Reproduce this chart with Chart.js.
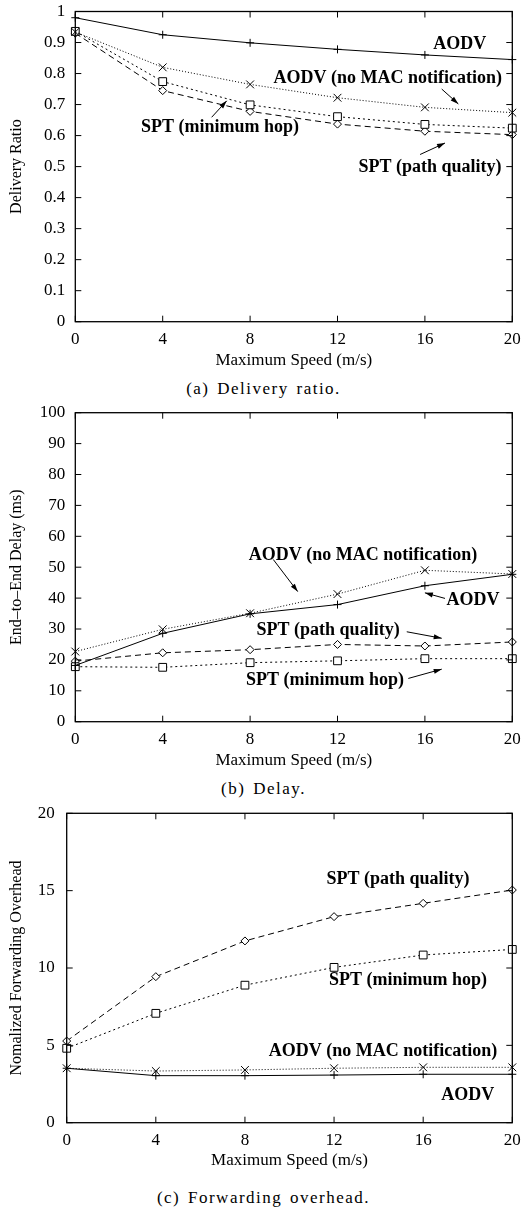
<!DOCTYPE html>
<html>
<head>
<meta charset="utf-8">
<script src="https://cdn.jsdelivr.net/npm/chart.js@4.4.0/dist/chart.umd.min.js"></script>
<style>
  body { margin: 0; background: #fff; width: 527px; height: 1211px; position: relative; overflow: hidden; font-family: "Liberation Serif", "Times New Roman", serif; }
  .panel { position: absolute; left: 0; }
  .caption { position: absolute; left: 0; width: 527px; text-align: center; font-size: 17px; letter-spacing: 1.5px; word-spacing: 2px; color: #000; }
</style>
</head>
<body>
<div class="panel" style="top:0px"><canvas id="ratioChart" width="527" height="371"></canvas></div>
<div class="caption" style="top:379px">(a) Delivery ratio.</div>
<div class="panel" style="top:400px"><canvas id="delayChart" width="527" height="371"></canvas></div>
<div class="caption" style="top:779px">(b) Delay.</div>
<div class="panel" style="top:800px"><canvas id="overheadChart" width="527" height="371"></canvas></div>
<div class="caption" style="top:1188px">(c) Forwarding overhead.</div>

<script>
// x categories: maximum speed (m/s)
const speeds = [0, 4, 8, 12, 16, 20];

// (a) delivery ratio
const ratioAodv      = [0.980, 0.925, 0.899, 0.878, 0.860, 0.845];
const ratioAodvNoMac = [0.934, 0.820, 0.765, 0.722, 0.691, 0.674];
const ratioSptHop    = [0.936, 0.774, 0.699, 0.661, 0.636, 0.624];
const ratioSptPath   = [0.930, 0.745, 0.678, 0.637, 0.614, 0.603];

// (b) end-to-end delay (ms)
const delayAodv      = [18.2, 28.6, 34.9, 37.9, 44.0, 47.7];
const delayAodvNoMac = [22.7, 29.9, 35.1, 41.3, 49.0, 47.8];
const delaySptHop    = [17.8, 17.6, 19.1, 19.7, 20.4, 20.4];
const delaySptPath   = [19.6, 22.3, 23.3, 25.0, 24.5, 25.8];

// (c) normalized forwarding overhead
const ovhAodv      = [3.52, 3.04, 3.04, 3.08, 3.13, 3.13];
const ovhAodvNoMac = [3.52, 3.34, 3.41, 3.52, 3.58, 3.58];
const ovhSptHop    = [4.81, 7.07, 8.89, 10.04, 10.84, 11.20];
const ovhSptPath   = [5.28, 9.44, 11.75, 13.32, 14.18, 15.04];

// tick labels
const ratioTicks = [0, 0.1, 0.2, 0.3, 0.4, 0.5, 0.6, 0.7, 0.8, 0.9, 1];
const delayTicks = [0, 10, 20, 30, 40, 50, 60, 70, 80, 90, 100];
const ovhTicks   = [0, 5, 10, 15, 20];

const FONT = '"Liberation Serif", "Times New Roman", serif';

// line styles (gnuplot-like)
const styles = {
  aodv:      { borderDash: [],     pointStyle: 'cross',    pointRadius: 4,   pointBackgroundColor: '#000' },
  aodvNoMac: { borderDash: [1, 2], pointStyle: 'crossRot', pointRadius: 5.5, pointBackgroundColor: '#000' },
  sptHop:    { borderDash: [2, 3], pointStyle: 'rect',     pointRadius: 5.5, pointBackgroundColor: '#fff' },
  sptPath:   { borderDash: [6, 4], pointStyle: 'rectRot',  pointRadius: 4,   pointBackgroundColor: '#fff' }
};

function series(values, style) {
  return Object.assign({
    data: values.map((v, i) => ({ x: speeds[i], y: v })),
    borderColor: '#000',
    borderWidth: 1,
    pointBorderColor: '#000',
    pointBorderWidth: 1,
    tension: 0,
    clip: false
  }, style);
}

// frame with inward ticks on all four sides, plus annotations
const framePlugin = {
  id: 'frame',
  afterDraw(chart, args, opts) {
    const ctx = chart.ctx;
    const area = chart.chartArea;
    const xs = chart.scales.x, ys = chart.scales.y;
    const tl = 6;
    ctx.save();
    ctx.strokeStyle = '#000';
    ctx.lineWidth = 1.3;
    ctx.setLineDash([]);
    ctx.strokeRect(area.left, area.top, area.right - area.left, area.bottom - area.top);
    ctx.lineWidth = 1;
    ctx.beginPath();
    xs.ticks.forEach(t => {
      const px = xs.getPixelForValue(t.value);
      ctx.moveTo(px, area.bottom); ctx.lineTo(px, area.bottom - tl);
      ctx.moveTo(px, area.top); ctx.lineTo(px, area.top + tl);
    });
    ys.ticks.forEach(t => {
      const py = ys.getPixelForValue(t.value);
      ctx.moveTo(area.left, py); ctx.lineTo(area.left + tl, py);
      ctx.moveTo(area.right, py); ctx.lineTo(area.right - tl, py);
    });
    ctx.stroke();

    // notes
    ctx.fillStyle = '#000';
    ctx.font = 'bold 18px ' + FONT;
    ctx.textAlign = 'center';
    ctx.textBaseline = 'middle';
    (opts.notes || []).forEach(n => {
      ctx.fillText(n.text, xs.getPixelForValue(n.x), ys.getPixelForValue(n.y));
    });
    // arrows
    (opts.arrows || []).forEach(a => {
      const x1 = xs.getPixelForValue(a.from[0]), y1 = ys.getPixelForValue(a.from[1]);
      const x2 = xs.getPixelForValue(a.to[0]), y2 = ys.getPixelForValue(a.to[1]);
      const ang = Math.atan2(y2 - y1, x2 - x1);
      ctx.beginPath();
      ctx.moveTo(x1, y1); ctx.lineTo(x2, y2);
      ctx.stroke();
      ctx.beginPath();
      ctx.moveTo(x2, y2);
      ctx.lineTo(x2 - 8 * Math.cos(ang) + 2.5 * Math.sin(ang), y2 - 8 * Math.sin(ang) - 2.5 * Math.cos(ang));
      ctx.lineTo(x2 - 8 * Math.cos(ang) - 2.5 * Math.sin(ang), y2 - 8 * Math.sin(ang) + 2.5 * Math.cos(ang));
      ctx.closePath();
      ctx.fill();
    });
    ctx.restore();
  }
};

function makeChart(id, cfg) {
  const canvas = document.getElementById(id);
  const H = canvas.height;
  return new Chart(canvas, {
    type: 'line',
    data: { datasets: cfg.datasets },
    plugins: [framePlugin],
    options: {
      responsive: false,
      animation: false,
      devicePixelRatio: 1,
      layout: { padding: { top: cfg.top, right: 527 - cfg.right, left: 0, bottom: 0 } },
      plugins: {
        legend: { display: false },
        tooltip: { enabled: false },
        frame: { notes: cfg.notes, arrows: cfg.arrows }
      },
      scales: {
        x: {
          type: 'linear',
          min: 0, max: 20,
          grid: { display: false, drawTicks: false },
          border: { display: false },
          afterBuildTicks: s => { s.ticks = speeds.map(v => ({ value: v })); },
          afterFit: s => { s.height = H - cfg.bottom; s.paddingLeft = 0; s.paddingRight = 0; },
          ticks: { color: '#000', padding: 8, font: { family: FONT, size: 17 }, callback: v => String(v), maxRotation: 0 },
          title: { display: true, text: 'Maximum Speed (m/s)', color: '#000', font: { family: FONT, size: 17 }, padding: { top: 0, bottom: 0 } }
        },
        y: {
          type: 'linear',
          min: cfg.yTicks[0], max: cfg.yTicks[cfg.yTicks.length - 1],
          grid: { display: false, drawTicks: false },
          border: { display: false },
          afterBuildTicks: s => { s.ticks = cfg.yTicks.map(v => ({ value: v })); },
          afterFit: s => { s.width = cfg.left; s.paddingTop = 0; s.paddingBottom = 0; },
          ticks: { color: '#000', padding: cfg.tickPad, font: { family: FONT, size: 17 }, callback: v => String(v) },
          title: { display: true, text: cfg.yTitle, color: '#000', font: { family: FONT, size: 16 }, padding: { top: 7, bottom: 0 } }
        }
      }
    }
  });
}

makeChart('ratioChart', {
  top: 11.5, bottom: 321.7, left: 75.3, right: 512.3, tickPad: 10,
  yTicks: ratioTicks, yTitle: 'Delivery Ratio',
  datasets: [
    series(ratioAodv, styles.aodv),
    series(ratioAodvNoMac, styles.aodvNoMac),
    series(ratioSptHop, styles.sptHop),
    series(ratioSptPath, styles.sptPath)
  ],
  notes: [
    { text: 'AODV', x: 17.6, y: 0.895 },
    { text: 'AODV (no MAC notification)', x: 14.3, y: 0.784 },
    { text: 'SPT (minimum hop)', x: 6.62, y: 0.627 },
    { text: 'SPT (path quality)', x: 16.23, y: 0.498 }
  ],
  arrows: [
    { from: [16.77, 0.750], to: [17.53, 0.702] },
    { from: [6.24, 0.659], to: [6.93, 0.712] },
    { from: [15.78, 0.539], to: [16.92, 0.576] }
  ]
});

makeChart('delayChart', {
  top: 12.7, bottom: 321.7, left: 75.3, right: 512.3, tickPad: 10,
  yTicks: delayTicks, yTitle: 'End\u2013to\u2013End Delay (ms)',
  datasets: [
    series(delayAodv, styles.aodv),
    series(delayAodvNoMac, styles.aodvNoMac),
    series(delaySptHop, styles.sptHop),
    series(delaySptPath, styles.sptPath)
  ],
  notes: [
    { text: 'AODV (no MAC notification)', x: 13.17, y: 53.9 },
    { text: 'AODV', x: 18.2, y: 39.4 },
    { text: 'SPT (path quality)', x: 11.57, y: 29.7 },
    { text: 'SPT (minimum hop)', x: 11.43, y: 13.5 }
  ],
  arrows: [
    { from: [9.06, 52.5], to: [10.18, 42.1] },
    { from: [16.92, 39.9], to: [16.0, 41.7] },
    { from: [15.17, 29.1], to: [16.77, 27.0] },
    { from: [15.24, 14.0], to: [16.77, 17.0] }
  ]
});

makeChart('overheadChart', {
  top: 13.3, bottom: 322.7, left: 66.7, right: 512.3, tickPad: 12,
  yTicks: ovhTicks, yTitle: 'Nomalized Forwarding Overhead',
  datasets: [
    series(ovhAodv, styles.aodv),
    series(ovhAodvNoMac, styles.aodvNoMac),
    series(ovhSptHop, styles.sptHop),
    series(ovhSptPath, styles.sptPath)
  ],
  notes: [
    { text: 'SPT (path quality)', x: 14.87, y: 15.73 },
    { text: 'SPT (minimum hop)', x: 15.32, y: 9.22 },
    { text: 'AODV (no MAC notification)', x: 14.2, y: 4.59 },
    { text: 'AODV', x: 18.0, y: 1.79 }
  ],
  arrows: []
});
</script>
</body>
</html>
